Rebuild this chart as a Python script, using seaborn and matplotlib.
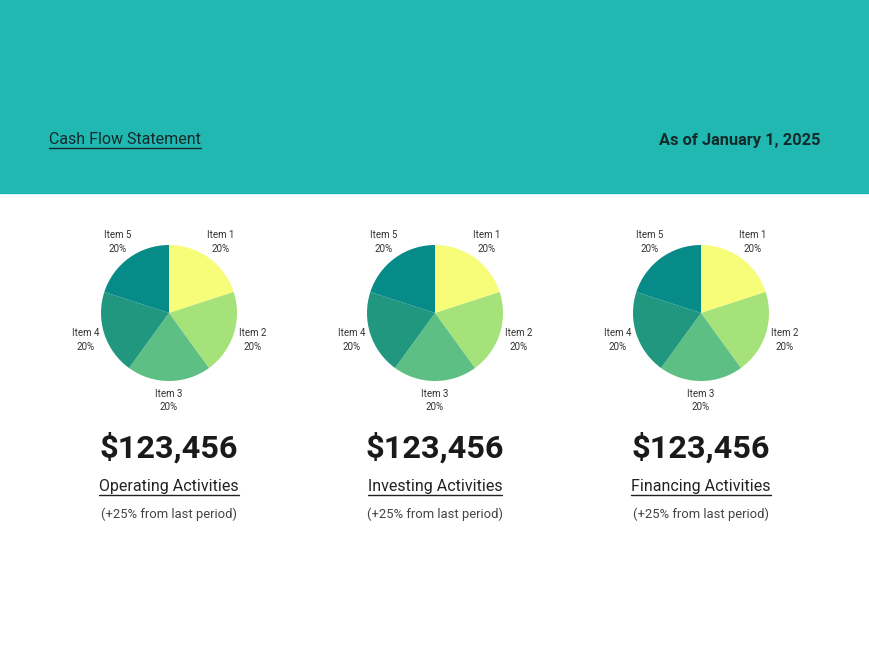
import matplotlib.pyplot as plt
import matplotlib.patches as mpatches
from matplotlib.lines import Line2D
import seaborn as sns

# data
items = ["Item 1", "Item 2", "Item 3", "Item 4", "Item 5"]
shares = [20, 20, 20, 20, 20]
panel_titles = ["Operating Activities", "Investing Activities", "Financing Activities"]
panel_values = ["$123,456", "$123,456", "$123,456"]
panel_notes = ["(+25% from last period)"] * 3
header_left = "Cash Flow Statement"
header_right = "As of January 1, 2025"

colors = ["#F7FC79", "#A5E27A", "#5DBF83", "#21977F", "#068B88"]

sns.set_theme(style="white")
plt.rcParams["font.family"] = ["Roboto", "DejaVu Sans"]

W, H = 870, 653
fig = plt.figure(figsize=(W / 100, H / 100), dpi=100)
fig.patch.set_facecolor("white")


def fx(px):
    return px / W


def fy(py):
    return 1 - py / H


# teal header band
fig.patches.append(mpatches.Rectangle((0, fy(193)), 1, 1 - fy(193),
                                      transform=fig.transFigure,
                                      color="#21B8B2", zorder=0))

underlined = []
t = fig.text(fx(49), fy(140), header_left, fontsize=11.5, color="#122a2a",
             ha="left", va="center")
underlined.append((t, "#122a2a"))
fig.text(fx(821), fy(140), header_right, fontsize=11.8, color="#122a2a",
         fontweight="bold", ha="right", va="center")

centers = [169, 435, 701]
radius = 68
lim = 1.45
for cx, title, value, note in zip(centers, panel_titles, panel_values, panel_notes):
    size = 2 * lim * radius
    ax = fig.add_axes([fx(cx - size / 2), fy(313 + size / 2), size / W, size / H])
    wedges, texts = ax.pie(
        shares,
        labels=[f"{n}\n{s}%" for n, s in zip(items, shares)],
        colors=colors,
        startangle=90,
        counterclock=False,
        labeldistance=1.29,
        wedgeprops=dict(linewidth=0),
        textprops=dict(fontsize=7, color="#333333", linespacing=1.42),
    )
    for tx in texts:
        tx.set_ha("center")
        tx.set_va("center")
    ax.set_xlim(-lim, lim)
    ax.set_ylim(-lim, lim)
    ax.set_aspect("equal")
    ax.axis("off")

    fig.text(fx(cx), fy(448), value, fontsize=23.4, fontweight="bold",
             color="#1a1a1a", ha="center", va="center")
    t = fig.text(fx(cx), fy(487), title, fontsize=11.5, color="#222222",
                 ha="center", va="center")
    underlined.append((t, "#222222"))
    fig.text(fx(cx), fy(514), note, fontsize=9.35, color="#444444",
             ha="center", va="center")

# underline the link-style texts
fig.canvas.draw()
inv = fig.transFigure.inverted()
for t, c in underlined:
    bb = t.get_window_extent()
    (x0, y0), (x1, _) = inv.transform([(bb.x0, bb.y0), (bb.x1, bb.y0)])
    fig.add_artist(Line2D([x0, x1], [y0, y0], transform=fig.transFigure,
                          color=c, linewidth=1))

fig.savefig("out.png", dpi=100)
